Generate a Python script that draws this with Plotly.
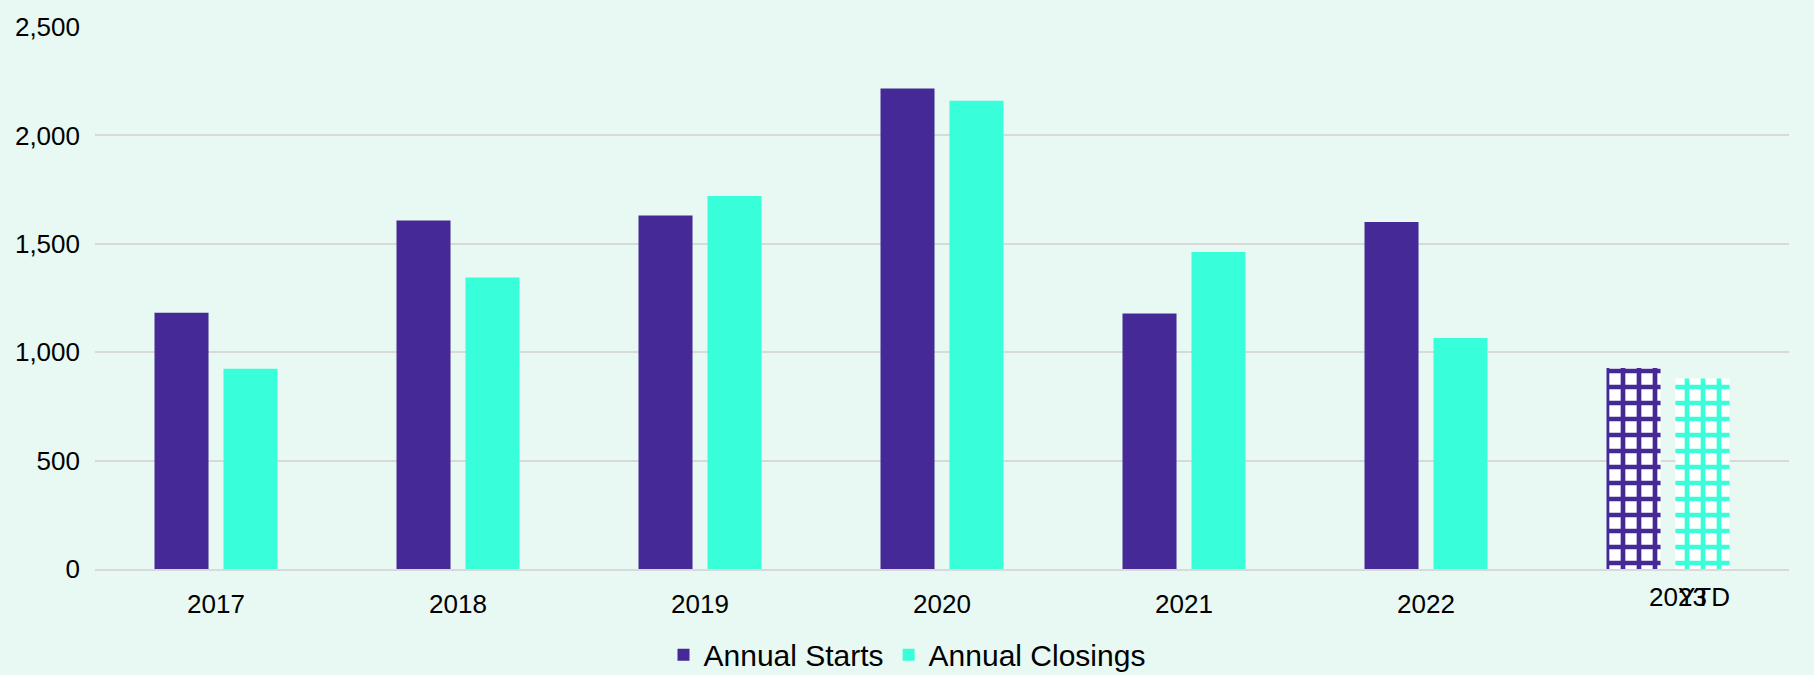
import plotly.graph_objects as go

categories = ["2017", "2018", "2019", "2020", "2021", "2022", "2023 YTD"]
annual_starts = [1182, 1608, 1631, 2216, 1179, 1600, 927]
annual_closings = [924, 1345, 1720, 2160, 1462, 1065, 879]
tick_labels = ["2017", "2018", "2019", "2020", "2021", "2022", ""]
y_ticks = [0, 500, 1000, 1500, 2000, 2500]

PURPLE = "#452996"
TEAL = "#38FFD9"
BG = "#E8F8F2"
FONT = "Liberation Sans, Arial, sans-serif"

patterns = ["", "", "", "", "", "", "+"]

fig = go.Figure()
fig.add_trace(go.Bar(
    name="Annual Starts", x=categories, y=annual_starts,
    marker=dict(color=PURPLE, line=dict(width=0),
                pattern=dict(shape=patterns, fgcolor=PURPLE, bgcolor="white",
                             size=16, solidity=0.5, fillmode="replace")),
))
fig.add_trace(go.Bar(
    name="Annual Closings", x=categories, y=annual_closings,
    marker=dict(color=TEAL, line=dict(width=0),
                pattern=dict(shape=patterns, fgcolor=TEAL, bgcolor="white",
                             size=16, solidity=0.5, fillmode="replace")),
))

# overlapping "2023" / "YTD" label as in the reference
fig.add_annotation(x="2023 YTD", y=0, yref="y", text="2023", showarrow=False,
                   xshift=10, yshift=-28, yanchor="middle",
                   font=dict(size=26, color="black", family=FONT))
fig.add_annotation(x="2023 YTD", y=0, yref="y", text="YTD", showarrow=False,
                   xshift=36, yshift=-28, yanchor="middle",
                   font=dict(size=26, color="black", family=FONT))

fig.update_layout(
    width=1814, height=675,
    paper_bgcolor=BG, plot_bgcolor=BG,
    margin=dict(l=95, r=25, t=27, b=106, autoexpand=False),
    barmode="group", bargap=0.43, bargroupgap=0.217,
    font=dict(family=FONT, color="black", size=26),
    showlegend=True,
    legend=dict(orientation="h", xref="container", yref="container",
                x=0.5, xanchor="center", y=0.03, yanchor="middle",
                font=dict(size=30, family=FONT), bgcolor="rgba(0,0,0,0)",
                itemsizing="constant"),
    xaxis=dict(tickmode="array", tickvals=categories, ticktext=tick_labels,
               showgrid=False, showline=True, linecolor="#D9D9D9", linewidth=2,
               ticks="", tickfont=dict(size=26), ticklabelstandoff=11),
    yaxis=dict(range=[0, 2500], tickvals=y_ticks, tickformat=",",
               showgrid=True, gridcolor="#D9D9D9", gridwidth=1.5,
               zeroline=False, showline=False, ticks="",
               tickfont=dict(size=26), ticklabelstandoff=14),
)

fig.write_html("out.html", config={"displayModeBar": False},
               post_script="document.body.style.margin='0';document.body.style.background='%s';" % BG)
